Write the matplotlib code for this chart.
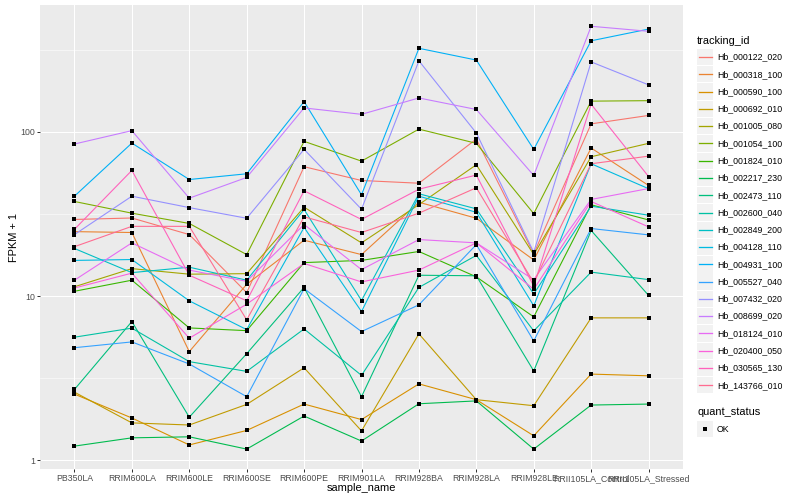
import numpy as np
import matplotlib
matplotlib.use('Agg')
import matplotlib.pyplot as plt
from matplotlib.patches import Rectangle

plt.rcParams['font.family'] = ['Liberation Sans', 'DejaVu Sans']

# samples on the x axis
samples = ['PB350LA', 'RRIM600LA', 'RRIM600LE', 'RRIM600SE', 'RRIM600PE', 'RRIM901LA',
           'RRIM928BA', 'RRIM928LA', 'RRIM928LE', 'RRII105LA_Control', 'RRII105LA_Stressed']

# FPKM + 1 for each gene
hb_000122_020 = [29.3, 29.9, 23.7, 10.5, 61.4, 50.6, 48.7, 90.5, 18.1, 112, 126]
hb_000318_100 = [24.7, 24.4, 4.59, 11.8, 21.9, 17.9, 37.3, 29.8, 16.6, 79.8, 47.2]
hb_000590_100 = [2.53, 1.81, 1.24, 1.52, 2.20, 1.77, 2.92, 2.34, 1.41, 3.35, 3.27]
hb_000692_010 = [2.60, 1.69, 1.64, 2.19, 3.66, 1.51, 5.89, 2.34, 2.15, 7.37, 7.37]
hb_001005_080 = [11.4, 14.7, 13.6, 13.7, 34.8, 21.1, 36.1, 63.1, 17.9, 70.6, 85.2]
hb_001054_100 = [37.7, 32.0, 27.7, 17.9, 87.6, 66.4, 104, 85.2, 31.8, 154, 155]
hb_001824_010 = [10.7, 12.5, 6.40, 6.16, 16.0, 16.5, 18.7, 13.1, 7.47, 36.0, 29.1]
hb_002217_230 = [1.22, 1.37, 1.39, 1.17, 1.86, 1.31, 2.21, 2.30, 1.17, 2.17, 2.20]
hb_002473_110 = [2.70, 7.00, 1.83, 4.46, 11.3, 2.44, 13.4, 13.3, 3.50, 25.1, 10.1]
hb_002600_040 = [5.62, 6.38, 3.99, 3.48, 6.31, 3.29, 11.3, 17.7, 6.14, 14.0, 12.6]
hb_002849_200 = [19.5, 13.9, 15.0, 12.5, 33.7, 9.40, 42.0, 34.0, 10.3, 35.3, 31.1]
hb_004128_110 = [16.5, 16.7, 9.36, 6.25, 26.2, 8.05, 40.6, 32.4, 8.73, 64.0, 45.1]
hb_004931_100 = [40.6, 85.5, 51.3, 55.6, 153, 41.4, 323, 274, 78.3, 359, 423]
hb_005527_040 = [4.85, 5.26, 3.86, 2.44, 11.1, 6.08, 8.85, 20.6, 5.33, 25.8, 23.6]
hb_007432_020 = [23.7, 40.6, 34.6, 29.8, 78.3, 33.8, 271, 98.5, 18.5, 267, 193.5]
hb_008699_020 = [84.4, 101.8, 39.5, 52.8, 140, 128, 161, 137, 54.3, 440, 410]
hb_018124_010 = [12.5, 21.1, 14.4, 12.3, 27.3, 14.5, 22.1, 21.1, 12.6, 38.8, 45.2]
hb_020400_050 = [11.2, 13.8, 5.54, 8.93, 15.8, 12.2, 14.4, 21.1, 11.0, 37.7, 26.4]
hb_030565_130 = [25.5, 58.3, 13.4, 9.36, 43.8, 29.3, 44.8, 54.6, 11.5, 147.5, 53.5]
hb_143766_010 = [20.0, 26.6, 26.6, 7.17, 30.4, 24.4, 32.0, 45.7, 12.1, 64.0, 71.2]

tracking_ids = ['Hb_000122_020', 'Hb_000318_100', 'Hb_000590_100', 'Hb_000692_010',
                'Hb_001005_080', 'Hb_001054_100', 'Hb_001824_010', 'Hb_002217_230',
                'Hb_002473_110', 'Hb_002600_040', 'Hb_002849_200', 'Hb_004128_110',
                'Hb_004931_100', 'Hb_005527_040', 'Hb_007432_020', 'Hb_008699_020',
                'Hb_018124_010', 'Hb_020400_050', 'Hb_030565_130', 'Hb_143766_010']
series = [hb_000122_020, hb_000318_100, hb_000590_100, hb_000692_010, hb_001005_080,
          hb_001054_100, hb_001824_010, hb_002217_230, hb_002473_110, hb_002600_040,
          hb_002849_200, hb_004128_110, hb_004931_100, hb_005527_040, hb_007432_020,
          hb_008699_020, hb_018124_010, hb_020400_050, hb_030565_130, hb_143766_010]
quant_status = ['OK']

# ggplot hue palette for 20 levels
colors = ['#F8766D', '#EA8331', '#D89000', '#C09B00', '#A3A500', '#7CAE00', '#39B600',
          '#00BB4E', '#00BF7D', '#00C1A3', '#00BFC4', '#00BAE0', '#00B0F6', '#35A2FF',
          '#9590FF', '#C77CFF', '#E76BF3', '#FA62DB', '#FF62BC', '#FF6C91']

W, H = 800, 500
fig = plt.figure(figsize=(W / 72, H / 72), dpi=72)
left, right, top, bottom = 40, 683, 5, 469
ax = fig.add_axes([left / W, 1 - bottom / H, (right - left) / W, (bottom - top) / H])

x = np.arange(len(samples))
for vals, c in zip(series, colors):
    ax.plot(x, vals, color=c, lw=1.1, zorder=3)
for vals in series:
    ax.plot(x, vals, 's', color='black', ms=3.4, mew=0, zorder=4)

ax.set_yscale('log')
ax.set_ylim(0.885, 593)
ax.set_xlim(-0.6, len(samples) - 0.4)
ax.set_yticks([1, 10, 100])
ax.set_yticklabels(['1', '10', '100'])
ax.set_yticks([10 ** 0.5, 10 ** 1.5, 10 ** 2.5], minor=True)
ax.yaxis.set_minor_formatter(matplotlib.ticker.NullFormatter())
ax.set_xticks(x)
ax.set_xticklabels(samples)

ax.set_facecolor('#EBEBEB')
for s in ax.spines.values():
    s.set_visible(False)
ax.grid(True, which='major', color='white', lw=1.07, zorder=0)
ax.grid(True, which='minor', axis='y', color='white', lw=0.53, zorder=0)
ax.set_axisbelow(True)
ax.tick_params(which='major', length=2.75, width=1.0, color='#333333',
               labelsize=8.8, labelcolor='#4D4D4D', pad=2.2)
ax.tick_params(which='minor', length=0)

ax.set_xlabel('sample_name', fontsize=11)
ax.xaxis.set_label_coords(0.5, -(488 - bottom) / (bottom - top))
ax.xaxis.label.set_va('center')
ax.set_ylabel('FPKM + 1', fontsize=11)
ax.yaxis.set_label_coords(-(left - 14) / (right - left), 0.5)
ax.yaxis.label.set_va('center')

# legend drawn by hand in pixel space
lax = fig.add_axes([0, 0, 1, 1], zorder=5)
lax.set_xlim(0, W)
lax.set_ylim(H, 0)
lax.axis('off')

kx, kw, step = 697, 16.3, 17.28
lax.text(kx, 40.5, 'tracking_id', fontsize=11, va='center', ha='left')
y0 = 57
for i, (tid, c) in enumerate(zip(tracking_ids, colors)):
    yc = y0 + i * step
    lax.add_patch(Rectangle((kx, yc - kw / 2), kw, kw, facecolor='#F2F2F2',
                            edgecolor='none', zorder=1))
    lax.plot([kx + 1.5, kx + kw - 1.5], [yc, yc], color=c, lw=1.3, zorder=3)
    lax.text(kx + 20, yc, tid, fontsize=8.8, va='center', ha='left')

lax.text(kx, 412.3, 'quant_status', fontsize=11, va='center', ha='left')
for j, st in enumerate(quant_status):
    yc = 429 + j * step
    lax.add_patch(Rectangle((kx, yc - kw / 2), kw, kw, facecolor='#F2F2F2',
                            edgecolor='none', zorder=1))
    lax.plot([kx + kw / 2], [yc], 's', color='black', ms=3.4, mew=0, zorder=3)
    lax.text(kx + 20, yc, st, fontsize=8.8, va='center', ha='left')

fig.savefig('out.png', dpi=72, facecolor='white')
